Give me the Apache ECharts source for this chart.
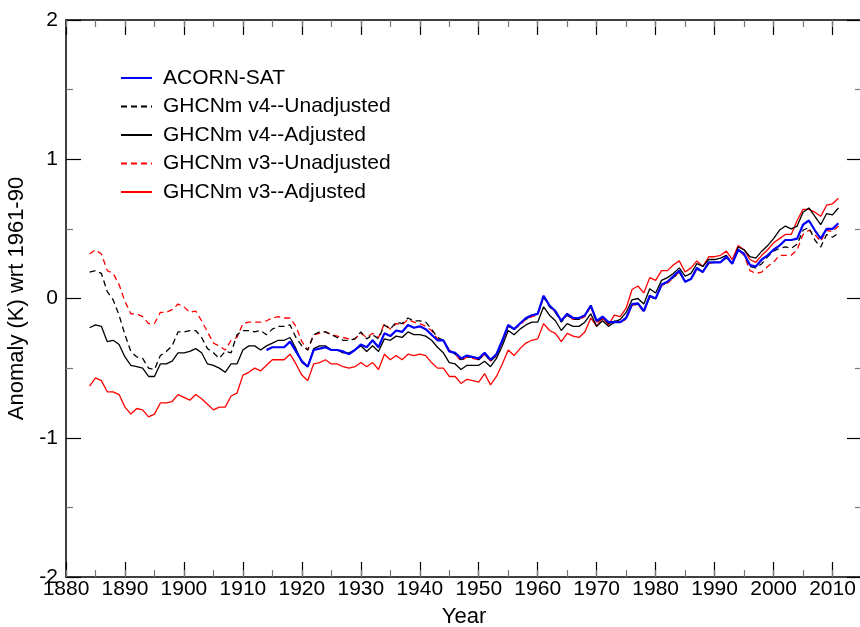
<!DOCTYPE html>
<html><head><meta charset="utf-8">
<script src="https://cdn.jsdelivr.net/npm/echarts@6/dist/echarts.min.js"></script>
<style>html,body{margin:0;padding:0;background:#fff}#c{width:860px;height:627px}</style>
</head><body><div id="c"></div>
<script>
// ---- data ----
const ghcnStartYear = 1884;
const acornStartYear = 1914;
const seriesNames = ['ACORN-SAT','GHCNm v4--Unadjusted','GHCNm v4--Adjusted','GHCNm v3--Unadjusted','GHCNm v3--Adjusted'];
const xTickLabels = ['1880','1890','1900','1910','1920','1930','1940','1950','1960','1970','1980','1990','2000','2010'];
const yTickLabels = ['-2','-1','0','1','2'];

const acornSat = [
 -0.37,-0.35,-0.35,-0.35,-0.31,-0.38,-0.45,-0.49,-0.37,-0.36,-0.35,-0.37,-0.37,-0.38,-0.40,-0.37,
 -0.33,-0.35,-0.30,-0.35,-0.25,-0.27,-0.23,-0.24,-0.19,-0.21,-0.20,-0.22,-0.26,-0.30,-0.30,-0.38,
 -0.39,-0.43,-0.41,-0.42,-0.43,-0.39,-0.44,-0.40,-0.30,-0.19,-0.22,-0.18,-0.14,-0.12,-0.11,0.02,
 -0.05,-0.09,-0.16,-0.11,-0.14,-0.14,-0.12,-0.05,-0.16,-0.13,-0.17,-0.17,-0.17,-0.14,-0.04,-0.035,
 -0.09,0.02,0.00,0.10,0.12,0.16,0.20,0.12,0.14,0.22,0.19,0.26,0.26,0.26,0.30,0.25,0.35,0.32,
 0.24,0.23,0.28,0.31,0.35,0.38,0.42,0.42,0.43,0.53,0.56,0.49,0.43,0.50,0.50,0.54
];
const v4Unadjusted = [
 0.19,0.20,0.18,0.05,-0.01,-0.12,-0.26,-0.38,-0.42,-0.43,-0.50,-0.51,-0.41,-0.38,-0.34,-0.24,-0.24,-0.23,-0.23,-0.28,-0.36,-0.39,-0.43,-0.38,-0.39,-0.26,-0.23,-0.23,-0.24,
 -0.23,-0.26,-0.22,-0.20,-0.20,-0.19,-0.28,-0.34,-0.37,-0.26,-0.24,-0.24,-0.26,-0.28,-0.30,-0.30,-0.29,-0.24,-0.29,-0.26,-0.29,-0.19,-0.22,-0.17,-0.18,-0.14,-0.16,-0.16,-0.17,-0.22,-0.28,-0.30,-0.37,
 -0.40,-0.44,-0.42,-0.42,-0.44,-0.40,-0.45,-0.41,-0.31,-0.20,-0.22,-0.18,-0.15,-0.12,-0.11,0.01,-0.06,-0.10,-0.17,-0.12,-0.15,-0.15,-0.12,-0.06,-0.17,
 -0.14,-0.18,-0.16,-0.17,-0.14,-0.05,-0.04,-0.09,0.01,0.00,0.09,0.12,0.15,0.19,0.12,0.14,0.21,0.19,0.25,0.26,0.26,0.29,0.25,0.35,0.32,
 0.23,0.22,0.25,0.30,0.34,0.36,0.37,0.36,0.39,0.49,0.51,0.42,0.37,0.46,0.44,0.47
];
const v4Adjusted = [
 -0.21,-0.19,-0.20,-0.31,-0.30,-0.33,-0.42,-0.48,-0.49,-0.50,-0.56,-0.56,-0.47,-0.47,-0.45,-0.39,-0.39,-0.38,-0.36,-0.39,-0.47,-0.48,-0.50,-0.53,-0.47,-0.47,-0.37,-0.34,
 -0.34,-0.37,-0.34,-0.32,-0.30,-0.30,-0.28,-0.36,-0.46,-0.49,-0.36,-0.34,-0.34,-0.37,-0.37,-0.39,-0.39,-0.37,-0.34,-0.38,-0.34,-0.38,-0.29,-0.30,-0.27,-0.28,-0.24,-0.26,-0.26,-0.27,-0.30,-0.35,-0.39,-0.46,
 -0.47,-0.51,-0.48,-0.48,-0.48,-0.45,-0.49,-0.43,-0.34,-0.23,-0.26,-0.22,-0.19,-0.17,-0.17,-0.06,-0.12,-0.16,-0.23,-0.18,-0.20,-0.20,-0.17,-0.11,-0.20,-0.16,-0.20,-0.17,-0.15,
 -0.10,-0.01,0.00,-0.04,0.07,0.04,0.13,0.15,0.18,0.22,0.16,0.18,0.25,0.23,0.28,0.28,0.29,0.31,0.25,0.37,0.35,0.30,0.29,0.34,0.38,0.43,0.49,0.52,0.50,0.52,0.62,0.65,0.59,0.53,0.61,0.60,0.65
];
const v3Unadjusted = [
 0.32,0.35,0.32,0.20,0.18,0.10,-0.02,-0.11,-0.11,-0.13,-0.18,-0.18,-0.10,-0.10,-0.08,-0.04,-0.06,-0.10,-0.09,-0.16,-0.24,-0.32,-0.34,-0.37,-0.30,-0.28,-0.18,-0.17,
 -0.17,-0.17,-0.16,-0.14,-0.13,-0.14,-0.14,-0.20,-0.31,-0.37,-0.26,-0.25,-0.24,-0.26,-0.27,-0.28,-0.29,-0.29,-0.25,-0.28,-0.25,-0.28,-0.18,-0.22,-0.18,-0.19,-0.15,-0.17,-0.18,-0.20,-0.23,-0.29,-0.30,-0.37,
 -0.40,-0.45,-0.42,-0.43,-0.44,-0.40,-0.45,-0.41,-0.31,-0.20,-0.22,-0.19,-0.15,-0.13,-0.12,0.01,-0.05,-0.10,-0.16,-0.12,-0.15,-0.15,-0.13,-0.06,-0.17,
 -0.14,-0.18,-0.17,-0.17,-0.15,-0.05,-0.04,-0.10,0.01,0.00,0.09,0.11,0.15,0.19,0.12,0.14,0.21,0.19,0.25,0.26,0.26,0.30,0.25,0.35,0.31,
 0.20,0.18,0.19,0.23,0.26,0.31,0.31,0.31,0.35,0.46,0.49,0.46,0.41,0.49,0.48,0.52
];
const v3Adjusted = [
 -0.63,-0.57,-0.59,-0.67,-0.67,-0.69,-0.78,-0.83,-0.79,-0.80,-0.85,-0.83,-0.75,-0.75,-0.74,-0.69,-0.71,-0.73,-0.69,-0.72,-0.76,-0.80,-0.78,-0.78,-0.70,-0.68,-0.55,-0.53,
 -0.50,-0.52,-0.48,-0.44,-0.44,-0.44,-0.40,-0.47,-0.55,-0.59,-0.47,-0.46,-0.44,-0.47,-0.47,-0.49,-0.50,-0.49,-0.46,-0.49,-0.46,-0.51,-0.40,-0.44,-0.41,-0.44,-0.40,-0.41,-0.40,-0.41,-0.46,-0.50,-0.50,-0.56,
 -0.56,-0.61,-0.58,-0.59,-0.60,-0.54,-0.62,-0.56,-0.47,-0.37,-0.41,-0.36,-0.32,-0.30,-0.29,-0.18,-0.23,-0.25,-0.31,-0.25,-0.27,-0.28,-0.24,-0.14,-0.20,-0.14,-0.19,-0.12,-0.13,
 -0.07,0.065,0.09,0.04,0.15,0.13,0.20,0.20,0.24,0.27,0.19,0.22,0.27,0.23,0.30,0.30,0.31,0.34,0.28,0.38,0.35,0.28,0.26,0.31,0.35,0.40,0.43,0.46,0.46,0.56,0.64,0.64,0.62,0.59,0.67,0.68,0.72
];

// ---- chart ----
function pairs(start, vals){ return vals.map((v,i)=>[start+i, v]); }
const FONT = 'Liberation Sans, Arial, sans-serif';
const chart = echarts.init(document.getElementById('c'), null, {renderer:'canvas'});

const xMin = 1880, xMax = 2015;
function xAxisMajor(pos, labels){
  return {
    type:'value', position:pos, min:xMin, max:xMax, interval:10, gridIndex:0,
    axisLine:{show:true, onZero:false, lineStyle:{color:'#000', width:1.5}},
    axisTick:{show:true, inside:true, length:15, lineStyle:{color:'#000', width:1.2}},
    splitLine:{show:false},
    axisLabel:{show:labels, color:'#000', fontSize:21, fontFamily:FONT, margin:2, showMaxLabel:false,
      formatter:(v)=>{ const s=String(Math.round(v)); return xTickLabels.indexOf(s)>=0 ? s : ''; }},
    name: labels ? 'Year' : '', nameLocation:'middle', nameGap:29,
    nameTextStyle:{color:'#000', fontSize:22, fontFamily:FONT}
  };
}
function xAxisMinor(pos){
  return {
    type:'value', position:pos, min:xMin, max:xMax, interval:5, gridIndex:0,
    axisLine:{show:false, onZero:false},
    axisTick:{show:true, inside:true, length:7, lineStyle:{color:'#777', width:1.2}},
    splitLine:{show:false}, axisLabel:{show:false}
  };
}
function yAxis(pos, labels){
  return {
    type:'value', position:pos, min:-2, max:2, interval:1, gridIndex:0,
    axisLine:{show:true, onZero:false, lineStyle:{color:'#000', width:1.5}},
    axisTick:{show:true, inside:true, length:15, lineStyle:{color:'#000', width:1.2}},
    minorTick:{show:true, splitNumber:2, length:7, lineStyle:{color:'#777', width:1.2}},
    splitLine:{show:false},
    axisLabel:{show:labels, color:'#000', fontSize:21, fontFamily:FONT, margin:8,
      formatter:(v)=>{ const s=String(Math.round(v)); return yTickLabels.indexOf(s)>=0 ? s : ''; }},
    name: labels ? 'Anomaly (K) wrt 1961-90' : '', nameLocation:'middle', nameGap:33,
    nameTextStyle:{color:'#000', fontSize:22, fontFamily:FONT}
  };
}

function lineSeries(name, start, vals, color, width, dashed, z){
  return {
    name, type:'line', xAxisIndex:0, yAxisIndex:0, data:pairs(start, vals),
    showSymbol:false, symbol:'none', z:z,
    lineStyle:{color, width, type: dashed ? [6,4] : 'solid'},
    itemStyle:{color}
  };
}

chart.setOption({
  animation:false,
  backgroundColor:'#fff',
  grid:{left:66, top:20, width:796, height:557, containLabel:false, outerBoundsMode:'none'},
  xAxis:[xAxisMajor('bottom', true), xAxisMinor('bottom'), xAxisMajor('top', false), xAxisMinor('top')],
  yAxis:[yAxis('left', true), yAxis('right', false)],
  legend:{
    show:true, orient:'vertical', left:115, top:62, itemWidth:31, itemHeight:14, itemGap:6.5,
    data:seriesNames,
    itemStyle:{opacity:0},
    textStyle:{color:'#000', fontSize:21, fontFamily:FONT, lineHeight:22, padding:[0,0,0,6]},
    selectedMode:false
  },
  series:[
    lineSeries(seriesNames[4], ghcnStartYear, v3Adjusted, '#ff0000', 1.3, false, 2),
    lineSeries(seriesNames[3], ghcnStartYear, v3Unadjusted, '#ff0000', 1.3, true, 3),
    lineSeries(seriesNames[2], ghcnStartYear, v4Adjusted, '#000000', 1.3, false, 4),
    lineSeries(seriesNames[1], ghcnStartYear, v4Unadjusted, '#000000', 1.3, true, 5),
    lineSeries(seriesNames[0], acornStartYear, acornSat, '#0000ff', 2.2, false, 6)
  ]
});
</script></body></html>
